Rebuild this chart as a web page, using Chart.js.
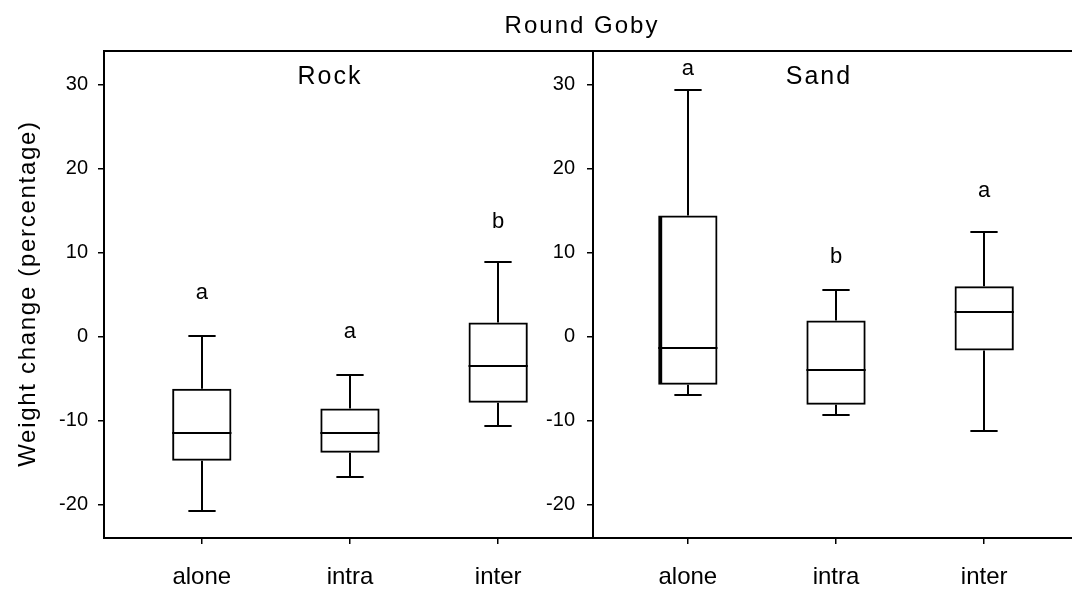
<!DOCTYPE html>
<html><head><meta charset="utf-8">
<script src="https://cdn.jsdelivr.net/npm/chart.js@4.4.1/dist/chart.umd.min.js"></script>
<style>
html,body{margin:0;padding:0;background:#fff;overflow:hidden;width:1072px;height:590px;}
#wrap{position:relative;width:1072px;height:590px;overflow:hidden;background:#fff;}
canvas{position:absolute;top:0;width:593px;height:590px;}
#rock{left:0;}
#sand{left:489px;}
</style></head><body>
<div id="wrap">
<canvas id="rock" width="593" height="590"></canvas>
<canvas id="sand" width="593" height="590"></canvas>
</div>
<script>
// ---- data ----
const categories = ['alone', 'intra', 'inter'];
const yTickValues = [-20, -10, 0, 10, 20, 30];

const rockMin    = [-20.75, -16.7, -10.71];
const rockQ1     = [-14.8, -13.85, -7.9];
const rockMedian = [-11.47, -11.47, -3.57];
const rockQ3     = [-6.23, -8.57, 1.67];
const rockMax    = [0.0, -4.56, 8.93];
const rockLetters = ['a', 'a', 'b'];
const rockLetterY = [4.5, -0.15, 12.95];

const sandMin    = [-6.94, -9.33, -11.23];
const sandQ1     = [-5.75, -8.13, -1.67];
const sandMedian = [-1.43, -4.05, 2.9];
const sandQ3     = [14.4, 1.9, 5.99];
const sandMax    = [29.37, 5.48, 12.42];
const sandLetters = ['a', 'b', 'a'];
const sandLetterY = [31.2, 8.77, 16.67];

const FONT = '"Liberation Sans", Arial, sans-serif';
Chart.defaults.font.family = FONT;
Chart.defaults.color = '#000';

function makePanelPlugin(p) {
  return {
    id: 'panel_' + p.title,
    afterDatasetsDraw(chart) {
      const meta = chart.getDatasetMeta(0);
      const ys = chart.scales.y;
      const ctx = chart.ctx;
      ctx.save();
      ctx.strokeStyle = '#000';
      ctx.lineWidth = 2;
      meta.data.forEach((bar, i) => {
        const x = Math.round(bar.x);
        const w = bar.width;
        const cap = w * 0.23;
        const pMin = Math.round(ys.getPixelForValue(p.min[i]));
        const pMax = Math.round(ys.getPixelForValue(p.max[i]));
        const pQ1 = ys.getPixelForValue(p.q1[i]);
        const pQ3 = ys.getPixelForValue(p.q3[i]);
        const pMed = Math.round(ys.getPixelForValue(p.median[i]));
        ctx.beginPath();
        ctx.moveTo(x, pQ3); ctx.lineTo(x, pMax);
        ctx.moveTo(x - cap, pMax); ctx.lineTo(x + cap, pMax);
        ctx.moveTo(x, pQ1); ctx.lineTo(x, pMin);
        ctx.moveTo(x - cap, pMin); ctx.lineTo(x + cap, pMin);
        ctx.moveTo(bar.x - w / 2, pMed); ctx.lineTo(bar.x + w / 2, pMed);
        ctx.stroke();
      });
      ctx.restore();
    },
    afterDraw(chart) {
      const ctx = chart.ctx;
      const ca = chart.chartArea;
      const xs = chart.scales.x, ys = chart.scales.y;
      ctx.save();
      ctx.fillStyle = '#000';
      ctx.textAlign = 'center';
      ctx.textBaseline = 'alphabetic';
      ctx.font = '25px ' + FONT;
      ctx.letterSpacing = '2px';
      ctx.fillText(p.title, ca.left + 0.462 * (ca.right - ca.left), 84);
      ctx.font = '22px ' + FONT;
      ctx.letterSpacing = '0px';
      p.letters.forEach((l, i) => {
        ctx.fillText(l, xs.getPixelForValue(i), ys.getPixelForValue(p.letterY[i]));
      });
      if (p.mainTitle) {
        ctx.font = '24px ' + FONT;
        ctx.letterSpacing = '2px';
        ctx.fillText(p.mainTitle, ca.left - 11, 33);
      }
      if (p.yTitle) {
        ctx.font = '24px ' + FONT;
        ctx.letterSpacing = '1.7px';
        ctx.translate(28, (ca.top + ca.bottom) / 2 - 1);
        ctx.rotate(-Math.PI / 2);
        ctx.textBaseline = 'middle';
        ctx.fillText(p.yTitle, 0, 0);
      }
      ctx.restore();
    }
  };
}

function makeChart(id, p) {
  const xMin = p.xMin, xMax = p.xMin + 3.3;
  return new Chart(document.getElementById(id), {
    type: 'bar',
    data: {
      datasets: [{
        data: categories.map((c, i) => ({ x: i, y: [p.q1[i], p.q3[i]] })),
        backgroundColor: 'rgba(0,0,0,0)',
        borderColor: '#000',
        borderWidth: p.borderWidth,
        borderSkipped: false,
        barPercentage: 0.4,
        categoryPercentage: 1
      }]
    },
    options: {
      responsive: false,
      animation: false,
      events: [],
      layout: { padding: 0 },
      plugins: { legend: { display: false }, tooltip: { enabled: false }, title: { display: false } },
      scales: {
        x: {
          type: 'linear', position: 'bottom', min: xMin, max: xMax, offset: false,
          afterBuildTicks: s => { s.ticks = categories.map((c, i) => ({ value: i })); },
          ticks: { callback: (v, i) => categories[i], font: { size: 24 }, color: '#000', padding: 19, maxRotation: 0, autoSkip: false },
          grid: { display: true, drawOnChartArea: false, drawTicks: true, tickLength: 6, color: '#000', lineWidth: 1.5, offset: false },
          border: { display: true, color: '#000', width: 2 },
          afterFit: s => { s.height = 52; }
        },
        x2: {
          type: 'linear', position: 'top', min: xMin, max: xMax, display: true, offset: false,
          ticks: { display: false },
          grid: { display: false, drawTicks: false },
          border: { display: true, color: '#000', width: 2 },
          afterFit: s => { s.height = 51; }
        },
        y: {
          type: 'linear', position: 'left', min: -24, max: 34,
          afterBuildTicks: s => { s.ticks = yTickValues.map(v => ({ value: v })); },
          ticks: { font: { size: 20 }, color: '#000', padding: p.tickPad },
          grid: { display: true, drawOnChartArea: false, drawTicks: true, tickLength: 6, color: '#000', lineWidth: 1.5 },
          border: { display: true, color: '#000', width: 2 },
          afterFit: s => { s.width = 104; }
        }
      }
    },
    plugins: [makePanelPlugin(p)]
  });
}

makeChart('rock', {
  title: 'Rock', xMin: -0.66, tickPad: 10,
  min: rockMin, q1: rockQ1, median: rockMedian, q3: rockQ3, max: rockMax,
  letters: rockLetters, letterY: rockLetterY,
  borderWidth: 2,
  yTitle: 'Weight change (percentage)'
});
makeChart('sand', {
  title: 'Sand', xMin: -0.64, tickPad: 12,
  min: sandMin, q1: sandQ1, median: sandMedian, q3: sandQ3, max: sandMax,
  letters: sandLetters, letterY: sandLetterY,
  borderWidth: c => c.dataIndex === 0 ? { left: 4, top: 2, right: 2, bottom: 2 } : 2,
  mainTitle: 'Round Goby'
});
</script>
</body></html>
